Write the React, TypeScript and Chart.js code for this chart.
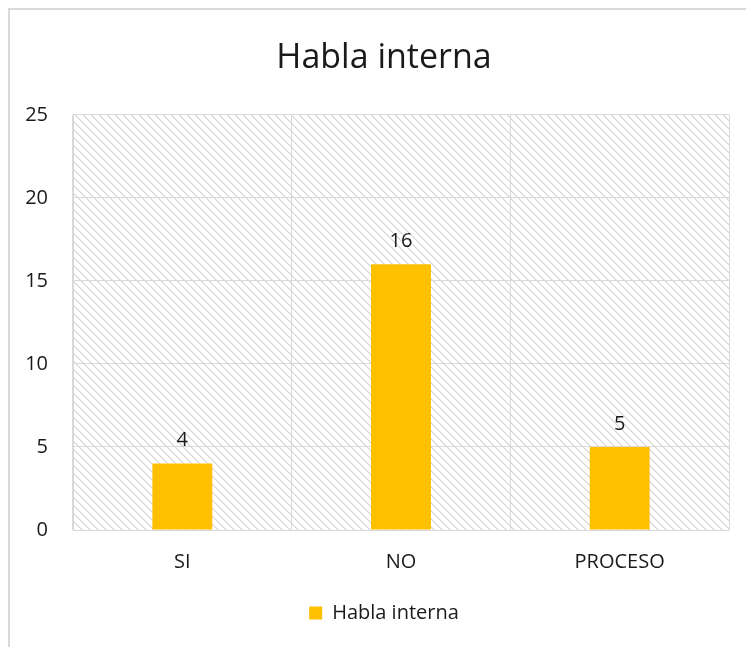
import React, { useEffect, useRef } from "react";
import { Chart, registerables } from "chart.js";

Chart.register(...registerables);

const categories = ["SI", "NO", "PROCESO"];
const seriesName = "Habla interna";
const values = [4, 16, 5];
const yTicks = [0, 5, 10, 15, 20, 25];

const FONT = "'Open Sans', sans-serif";
const TEXT = "#1a1a1a";
const GRID = "#d9d9d9";

function makeHatch(ctx: CanvasRenderingContext2D): CanvasPattern | string {
  const c = document.createElement("canvas");
  c.width = 8;
  c.height = 8;
  const g = c.getContext("2d");
  if (!g) return "#fff";
  g.fillStyle = "#ffffff";
  g.fillRect(0, 0, 8, 8);
  for (let i = 0; i < 8; i++) {
    g.fillStyle = "#d2d2d2";
    g.fillRect(i, i, 1, 1);
    g.fillStyle = "#ebebeb";
    g.fillRect((i + 1) % 8, i, 1, 1);
  }
  return ctx.createPattern(c, "repeat") || "#fff";
}

const bgPlugin = {
  id: "bgHatch",
  beforeDraw(chart: any) {
    const { ctx, chartArea } = chart;
    ctx.save();
    ctx.fillStyle = "#ffffff";
    ctx.fillRect(0, 0, chart.width, chart.height);
    ctx.strokeStyle = GRID;
    ctx.lineWidth = 2;
    ctx.strokeRect(9, 9, chart.width + 20, chart.height + 20);
    ctx.fillStyle = makeHatch(ctx);
    ctx.fillRect(chartArea.left, chartArea.top, chartArea.right - chartArea.left, chartArea.bottom - chartArea.top);
    ctx.restore();
  },
};

const labelPlugin = {
  id: "valueLabels",
  afterDatasetsDraw(chart: any) {
    const { ctx } = chart;
    const meta = chart.getDatasetMeta(0);
    ctx.save();
    ctx.font = `20px ${FONT}`;
    ctx.fillStyle = TEXT;
    ctx.textAlign = "center";
    ctx.textBaseline = "bottom";
    meta.data.forEach((bar: any, i: number) => {
      ctx.fillText(String(values[i]), bar.x, bar.y - 13);
    });
    ctx.restore();
  },
};

export default function App() {
  const ref = useRef<HTMLCanvasElement | null>(null);
  useEffect(() => {
    if (!ref.current) return;
    const chart = new Chart(ref.current, {
      type: "bar",
      data: {
        labels: categories,
        datasets: [
          {
            label: seriesName,
            data: values,
            backgroundColor: "#FFC000",
            borderWidth: 0,
            categoryPercentage: 1,
            barPercentage: 0.274,
            yAxisID: "y",
          },
        ],
      },
      options: {
        animation: false,
        responsive: false,
        maintainAspectRatio: false,
        layout: { padding: { top: 0, left: 10, right: -12, bottom: 14 } },
        plugins: {
          title: {
            display: true,
            text: "Habla interna",
            color: TEXT,
            font: { family: FONT, size: 34, weight: "normal" },
            padding: { top: 38, bottom: 36 },
          },
          legend: {
            position: "bottom",
            labels: {
              color: TEXT,
              font: { family: FONT, size: 20 },
              boxWidth: 13,
              boxHeight: 13,
              padding: 10,
            },
          },
          tooltip: { enabled: false },
        },
        scales: {
          x: {
            grid: { color: GRID, drawTicks: false, offset: true },
            border: { color: GRID, width: 1 },
            ticks: { color: TEXT, font: { family: FONT, size: 20 }, padding: 20 },
            afterFit(scale: any) {
              scale.height = 63;
            },
          },
          y: {
            min: 0,
            max: 25,
            grid: { color: GRID, drawTicks: false },
            border: { color: GRID, width: 1 },
            ticks: {
              color: TEXT,
              font: { family: FONT, size: 20 },
              padding: 25,
              stepSize: 5,
              callback: (v: any) => (yTicks.includes(Number(v)) ? String(v) : ""),
            },
            afterFit(scale: any) {
              scale.width = 63;
            },
          },
          yRight: {
            type: "linear",
            position: "right",
            min: 0,
            max: 25,
            grid: { display: false, drawTicks: false },
            border: { display: false },
            ticks: { display: false },
            afterFit(scale: any) {
              scale.width = 29;
            },
          },
        },
      },
      plugins: [bgPlugin, labelPlugin],
    } as any);
    return () => chart.destroy();
  }, []);
  return (
    <div style={{ position: "fixed", left: 0, top: 0, width: 746, height: 647 }}>
      <canvas ref={ref} width={746} height={647} style={{ display: "block" }} />
    </div>
  );
}
